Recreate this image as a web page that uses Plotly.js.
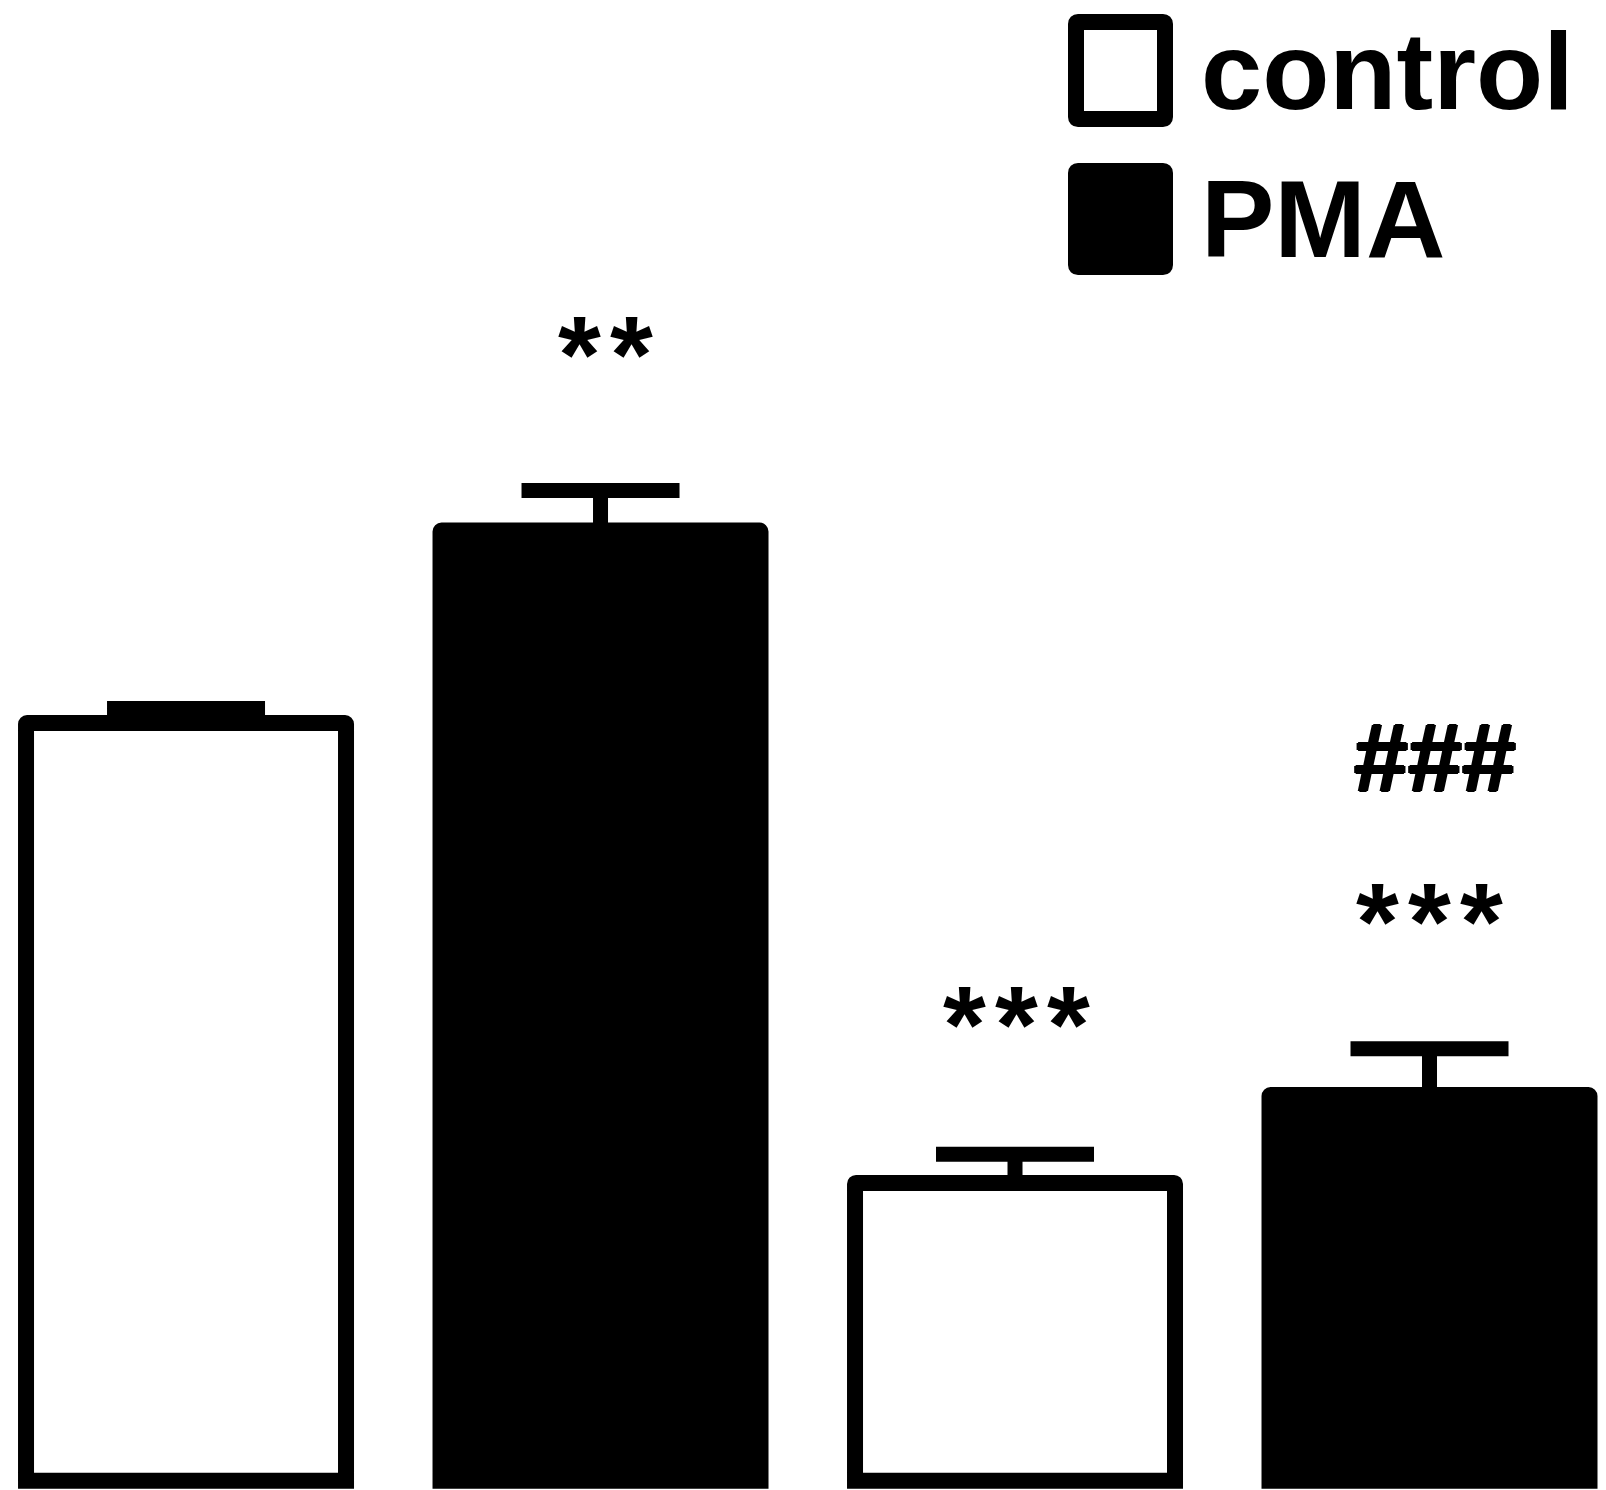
<!DOCTYPE html>
<html>
<head>
<meta charset="utf-8">
<script src="https://cdn.plot.ly/plotly-3.0.1.min.js"></script>
<style>
  html, body { margin: 0; padding: 0; background: #ffffff; }
  #chart { width: 1606px; height: 1490px; }
</style>
</head>
<body>
<div id="chart"></div>
<script>
// ---- data (control of first condition = 100) ----
const categories = ["condition 1", "condition 2"];
const seriesNames = ["control", "PMA"];
const controlValues = [100, 39.3];
const controlErrors = [1.9, 3.8];
const pmaValues = [125.4, 50.9];
const pmaErrors = [5.3, 6.1];
const controlMarks = ["", "***"];
const pmaMarks = ["**", "***"];
const pmaHashMarks = ["", "###"];

// ---- layout helpers ----
const W = 1606, H = 1490;
const px2x = p => p / W;
const px2y = p => 1 - p / H;
const zeros = a => a.map(() => 0);
const spaced = s => s.split("").join("\u200A");

const lineW = 16;
const errStyle = (arr) => ({
  type: "data", array: arr, arrayminus: zeros(arr), symmetric: false,
  visible: true, color: "#000000", thickness: 15, width: 79
});

const traces = [
  {
    type: "bar", name: seriesNames[0], x: categories, y: controlValues,
    marker: { color: "#ffffff", line: { color: "#000000", width: lineW } },
    error_y: errStyle(controlErrors), showlegend: false, hoverinfo: "skip"
  },
  {
    type: "bar", name: seriesNames[1], x: categories, y: pmaValues,
    marker: { color: "#000000", line: { color: "#000000", width: lineW } },
    error_y: errStyle(pmaErrors), showlegend: false, hoverinfo: "skip"
  }
];

const starFont = { family: "Liberation Sans, Arial, sans-serif", size: 110, color: "#000000", weight: "bold" };
const hashFont = { family: "Liberation Sans, Arial, sans-serif", size: 97, color: "#000000", weight: "bold",
  shadow: "1.5px 0 0 #000, -1.5px 0 0 #000, 0 1px 0 #000, 0 -1px 0 #000" };
const legFont = { family: "Liberation Sans, Arial, sans-serif", size: 110, color: "#000000", weight: "bold" };

const annotations = [];
// significance marks placed above each bar (category index +/- 0.25 = bar centre)
controlMarks.forEach((t, i) => {
  if (t) annotations.push({ xref: "x", yref: "y", x: i - 0.25, y: 60.4, text: spaced(t),
    showarrow: false, xanchor: "center", yanchor: "middle", font: starFont, xshift: 1 });
});
pmaMarks.forEach((t, i) => {
  if (t) annotations.push({ xref: "x", yref: "y", x: i + 0.25, y: i === 0 ? 148.8 : 74.0, text: spaced(t),
    showarrow: false, xanchor: "center", yanchor: "middle", font: starFont, xshift: i === 0 ? 5 : 0 });
});
pmaHashMarks.forEach((t, i) => {
  if (t) annotations.push({ xref: "x", yref: "y", x: i + 0.25, y: 95.5, text: t,
    showarrow: false, xanchor: "center", yanchor: "middle", font: hashFont, xshift: 5 });
});

// legend (drawn large, as in the reference)
annotations.push({ xref: "paper", yref: "paper", x: px2x(1199), y: px2y(70), text: seriesNames[0],
  showarrow: false, xanchor: "left", yanchor: "middle", font: legFont });
annotations.push({ xref: "paper", yref: "paper", x: px2x(1199), y: px2y(218), text: seriesNames[1],
  showarrow: false, xanchor: "left", yanchor: "middle", font: legFont });

// rounded legend boxes
function roundRectPath(x0, y0, x1, y1, r) {
  const X = px2x, Y = px2y;
  return "M" + X(x0 + r) + "," + Y(y0) +
    " L" + X(x1 - r) + "," + Y(y0) + " Q" + X(x1) + "," + Y(y0) + " " + X(x1) + "," + Y(y0 + r) +
    " L" + X(x1) + "," + Y(y1 - r) + " Q" + X(x1) + "," + Y(y1) + " " + X(x1 - r) + "," + Y(y1) +
    " L" + X(x0 + r) + "," + Y(y1) + " Q" + X(x0) + "," + Y(y1) + " " + X(x0) + "," + Y(y1 - r) +
    " L" + X(x0) + "," + Y(y0 + r) + " Q" + X(x0) + "," + Y(y0) + " " + X(x0 + r) + "," + Y(y0) + " Z";
}
const shapes = [
  { type: "path", xref: "paper", yref: "paper", path: roundRectPath(1076, 22, 1165, 119, 2),
    line: { color: "#000000", width: 16 }, fillcolor: "#ffffff" },
  { type: "path", xref: "paper", yref: "paper", path: roundRectPath(1076, 171, 1165, 267, 2),
    line: { color: "#000000", width: 16 }, fillcolor: "#000000" }
];

const layout = {
  width: W, height: H,
  margin: { l: 0, r: 0, t: 0, b: 0, pad: 0 },
  paper_bgcolor: "#ffffff", plot_bgcolor: "#ffffff",
  barmode: "group", bargap: 0, bargroupgap: 0.228, barcornerradius: 1,
  showlegend: false,
  xaxis: { type: "category", range: [-0.4744, 1.4629], visible: false, fixedrange: true },
  yaxis: { range: [-1.227, 195.42], visible: false, fixedrange: true },
  annotations: annotations,
  shapes: shapes
};

Plotly.newPlot("chart", traces, layout, { displayModeBar: false, staticPlot: true });
</script>
</body>
</html>
